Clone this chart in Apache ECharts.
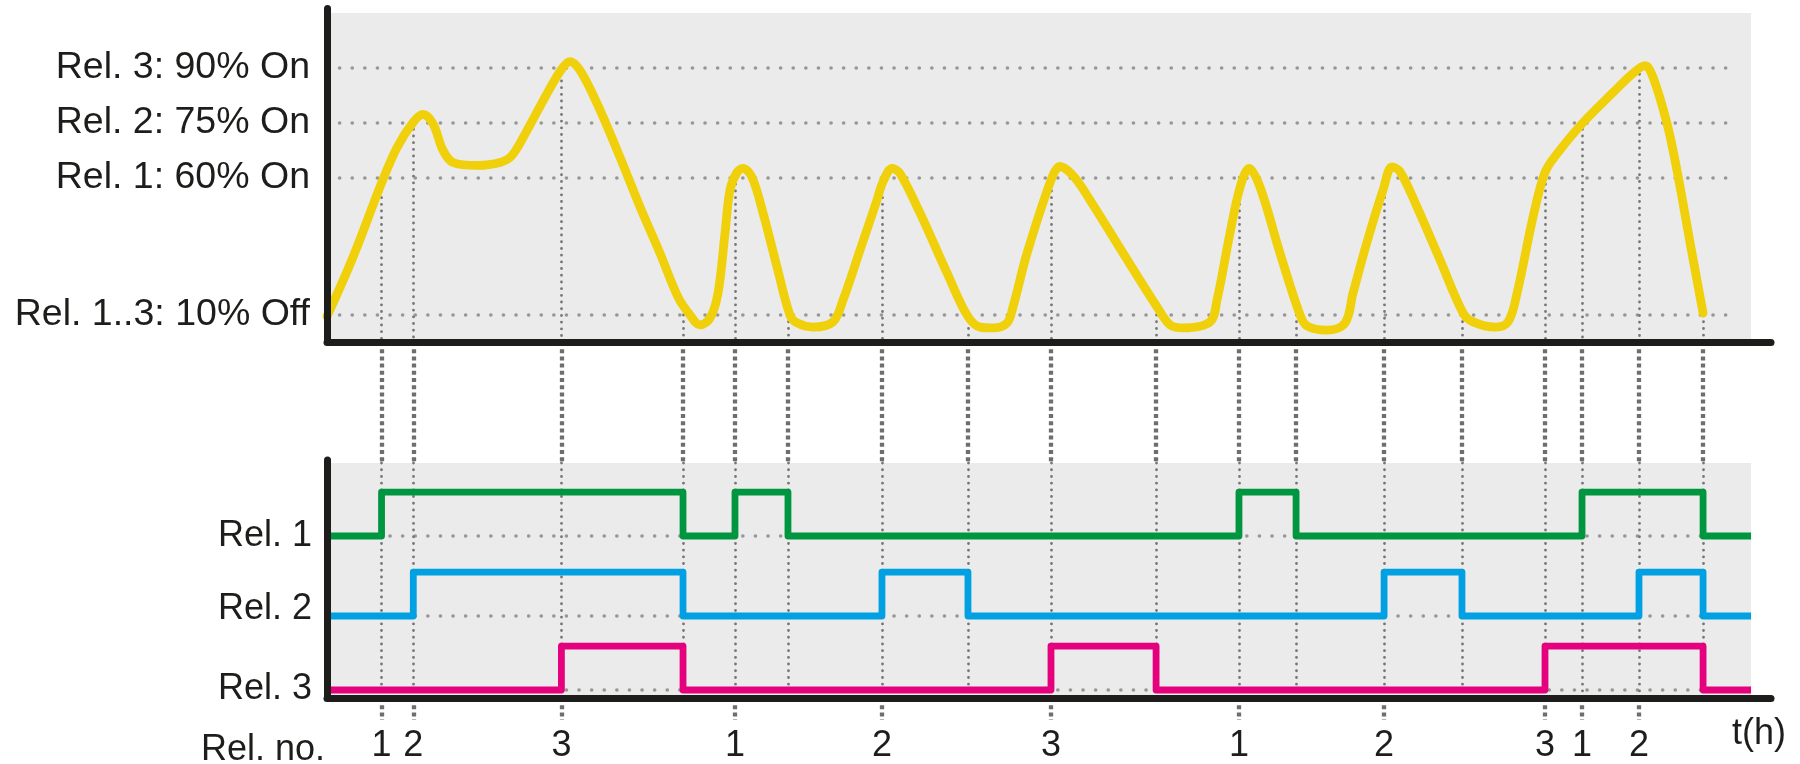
<!DOCTYPE html>
<html>
<head>
<meta charset="utf-8">
<script src="https://cdn.jsdelivr.net/npm/echarts@6/dist/echarts.min.js"></script>
<style>html,body{margin:0;padding:0;background:#fff}#c{width:1800px;height:764px}</style>
</head>
<body>
<div id="c"></div>
<script>
// ---------------- data ----------------
// time axis (h, arbitrary units) and sensor signal (%)
const curveTime = [0, 1.83, 3.86, 4.92, 6.04, 6.74, 7.44, 8.15, 8.85, 10.53,
  12.15, 12.99, 14.04, 15.45, 16.50, 17.06, 17.77, 18.96, 20.58, 21.98,
  23.38, 24.65, 25.49, 26.19, 26.90, 27.46, 27.95, 28.30, 28.79, 29.21,
  29.85, 30.62, 31.60, 32.51, 33.01, 34.13, 35.53, 36.24, 37.43, 38.62,
  39.04, 39.68, 40.24, 41.64, 43.54, 44.94, 45.86, 46.77, 47.75, 48.17,
  49.16, 50.91, 51.47, 52.39, 53.58, 55.90, 58.29, 59.20, 60.11,
  62.01, 62.50, 63.41, 64.12, 64.75, 65.52, 66.92, 68.33, 68.82, 70.22,
  71.49, 72.05, 73.03, 74.16, 74.79, 75.35, 76.54, 78.16, 79.78, 80.48,
  82.02, 82.94, 83.57, 84.69, 85.53, 86.38, 88.13, 90.31, 91.71, 92.56,
  93.12, 94.10, 94.80, 95.72, 96.63];
const curvePct = [9.5, 31.1, 58.4, 68.2, 75.0, 77.2, 74.7, 67.4, 64.1, 63.3,
  64.1, 66.0, 72.8, 82.9, 89.7, 91.6, 89.2, 80.2, 65.5, 49.3,
  32.5, 16.5, 10.0, 6.4, 8.9, 18.0, 39.8, 55.5, 61.4, 62.5,
  60.0, 47.1, 27.5, 10.0, 7.1, 5.6, 7.5, 15.5, 33.6, 51.8,
  58.4, 62.5, 61.1, 47.1, 25.3, 10.0, 5.6, 5.3, 7.1, 12.9,
  32.5, 60.0, 63.0, 60.5, 51.8, 32.5, 12.9, 6.4, 5.3,
  7.5, 15.5, 39.8, 56.5, 62.5, 56.5, 32.5, 10.0, 6.0, 4.5,
  7.1, 18.0, 36.5, 55.5, 62.9, 61.6, 49.3, 30.0, 10.7, 7.5,
  5.6, 7.5, 18.0, 45.6, 61.4, 66.5, 74.7, 83.2, 88.4, 90.5,
  87.3, 74.7, 61.9, 36.2, 10.7];

const levelPct = [10, 60, 75, 90];
const levelLabels = ['Rel. 1..3: 10% Off', 'Rel. 1: 60% On', 'Rel. 2: 75% On', 'Rel. 3: 90% On'];
const stageOnPct = [60, 75, 90];
const offPct = 10;

const relayNames = ['Rel. 1', 'Rel. 2', 'Rel. 3'];
// [time, state] switching points of each relay
const rel1Switch = [[0,0],[3.83,1],[25.0,0],[28.65,1],[32.37,0],[64.04,1],[68.05,0],[88.13,1],[96.63,0],[100,0]];
const rel2Switch = [[0,0],[6.06,1],[25.0,0],[38.97,1],[45.01,0],[74.23,1],[79.70,0],[92.13,1],[96.63,0],[100,0]];
const rel3Switch = [[0,0],[16.46,1],[25.0,0],[50.84,1],[58.22,0],[85.53,1],[96.63,0],[100,0]];
const relNoLabel = 'Rel. no.';
const timeLabel = 't(h)';

// ---------------- layout / style ----------------
const FONT = '"Liberation Sans", Arial, Helvetica, sans-serif';
const INK = '#1d1d1b';
const relayColors = ['#00963f', '#00a0e2', '#e5007e'];
const curveColor = '#f0d00a';
const X_MAX = 101.4;       // axis extends past the grey area
const BG_X_END = 100;
const TOP_MIN = -0.491, TOP_MAX = 5.573;
const BOT_MIN = 0, BOT_MAX = 10.128, BOT_BG_TOP = 10.0;
const laneLow = [6.894, 3.489, 0.340];
const laneAmp = 1.87;
const laneLabelLift = [0, 14, 2];

// non-linear display scale of the level axis (not to scale in the original)
function lvl(p) { return p <= 60 ? (p - 10) / 20 : 2.5 + (p - 60) / 15; }

// ---------------- derived ----------------
const relaySwitches = [rel1Switch, rel2Switch, rel3Switch];
function stateAt(sw, t) { let s = 0; for (const p of sw) { if (p[0] <= t) s = p[1]; } return s; }
const evMap = new Map();
relaySwitches.forEach((sw, r) => {
  for (let i = 1; i < sw.length; i++) {
    if (sw[i][1] !== sw[i - 1][1]) {
      const t = sw[i][0];
      if (!evMap.has(t)) evMap.set(t, { t, on: [], off: [] });
      (sw[i][1] ? evMap.get(t).on : evMap.get(t).off).push(r);
    }
  }
});
const events = [...evMap.values()].sort((a, b) => a.t - b.t).map(e => {
  const count = relaySwitches.reduce((n, sw) => n + stateAt(sw, e.t), 0);
  const isOn = e.on.length > 0;
  return { t: e.t, isOn, label: isOn ? String(e.on[0] + 1) : '', pct: isOn ? stageOnPct[count - 1] : offPct };
});

const dotGrid = { color: '#979797', width: 3.6, type: [0.1, 12.5], cap: 'round', opacity: 1 };
const dotVert = { color: '#767676', width: 2.8, type: [0.1, 6.6], cap: 'round', opacity: 1 };
const dashGap = { color: '#6e6e6e', width: 4.3, type: [4, 3.2], cap: 'butt', opacity: 1 };

function hiddenAxis(extra) {
  return Object.assign({ type: 'value', show: false, splitLine: { show: false } }, extra);
}
function mainAxis(extra) {
  return Object.assign({
    type: 'value', z: 10,
    axisLine: { show: true, onZero: false, lineStyle: { color: INK, width: 7, cap: 'round' } },
    axisTick: { show: false }, axisLabel: { show: false }, splitLine: { show: false }
  }, extra);
}
const laneRich = {};
laneLabelLift.forEach((lift, i) => {
  laneRich['l' + i] = { color: INK, fontSize: 36, fontFamily: FONT, padding: [0, 0, lift, 0] };
});

const chart = echarts.init(document.getElementById('c'), null, { renderer: 'canvas' });

const option = {
  animation: false,
  backgroundColor: '#ffffff',
  textStyle: { fontFamily: FONT },
  grid: [
    { left: 327, right: 49, top: 13, bottom: 422, show: true, backgroundColor: '#ebebeb', borderWidth: 0 }, // 0 top bg
    { left: 327, right: 49, top: 463, bottom: 66, show: true, backgroundColor: '#ebebeb', borderWidth: 0 }, // 1 bottom bg
    { left: 327, right: 29, top: 8.5, bottom: 422 },  // 2 top chart
    { left: 327, right: 29, top: 342, bottom: 301 },  // 3 gap
    { left: 327, right: 29, top: 460, bottom: 66 },   // 4 bottom chart
    { left: 327, right: 29, top: 698, bottom: 44 }    // 5 relay number row
  ],
  xAxis: [
    hiddenAxis({ gridIndex: 0, min: 0, max: BG_X_END }),
    hiddenAxis({ gridIndex: 1, min: 0, max: BG_X_END }),
    mainAxis({ gridIndex: 2, min: 0, max: X_MAX }),
    hiddenAxis({ gridIndex: 3, min: 0, max: X_MAX }),
    mainAxis({ gridIndex: 4, min: 0, max: X_MAX }),
    hiddenAxis({ gridIndex: 5, min: 0, max: X_MAX })
  ],
  yAxis: [
    hiddenAxis({ gridIndex: 0, min: 0, max: 1 }),
    hiddenAxis({ gridIndex: 1, min: 0, max: 1 }),
    mainAxis({ gridIndex: 2, min: TOP_MIN, max: TOP_MAX }),
    hiddenAxis({ gridIndex: 3, min: 0, max: 1 }),
    mainAxis({ gridIndex: 4, min: BOT_MIN, max: BOT_MAX }),
    hiddenAxis({ gridIndex: 5, min: 0, max: 1 })
  ],
  series: [
    // horizontal level lines with labels (top)
    {
      type: 'lines', coordinateSystem: 'cartesian2d', xAxisIndex: 2, yAxisIndex: 2, z: 1, silent: true, clip: false,
      lineStyle: dotGrid,
      label: { show: true, position: 'start', distance: 17, color: INK,
        formatter: p => '{t|' + p.name + '}',
        rich: { t: { color: INK, fontSize: 37.5, fontFamily: FONT } } },
      data: levelPct.map((p, i) => ({ name: levelLabels[i], coords: [[0, lvl(p)], [98.6, lvl(p)]] }))
    },
    // lane lines with labels (bottom)
    {
      type: 'lines', coordinateSystem: 'cartesian2d', xAxisIndex: 4, yAxisIndex: 4, z: 1, silent: true, clip: false,
      lineStyle: dotGrid,
      label: { show: true, position: 'start', distance: 15, color: INK,
        formatter: p => '{l' + p.dataIndex + '|' + p.name + '}',
        rich: laneRich },
      data: relayNames.map((n, i) => ({ name: n, coords: [[0, laneLow[i]], [98.6, laneLow[i]]] }))
    },
    // vertical event lines: top panel
    {
      type: 'lines', coordinateSystem: 'cartesian2d', xAxisIndex: 2, yAxisIndex: 2, z: 1, silent: true,
      lineStyle: dotVert,
      data: events.map(e => ({ coords: [[e.t, lvl(e.pct)], [e.t, TOP_MIN]] }))
    },
    // between panels
    {
      type: 'lines', coordinateSystem: 'cartesian2d', xAxisIndex: 3, yAxisIndex: 3, z: 1, silent: true,
      lineStyle: dashGap,
      data: events.map(e => ({ coords: [[e.t, 1], [e.t, 0]] }))
    },
    // bottom panel
    {
      type: 'lines', coordinateSystem: 'cartesian2d', xAxisIndex: 4, yAxisIndex: 4, z: 1, silent: true,
      lineStyle: dotVert,
      data: events.map(e => ({ coords: [[e.t, BOT_BG_TOP], [e.t, e.isOn ? BOT_MIN : laneLow[2]]] }))
    },
    // below axis to relay number, with the relay number as label
    {
      type: 'lines', coordinateSystem: 'cartesian2d', xAxisIndex: 5, yAxisIndex: 5, z: 1, silent: true, clip: false,
      lineStyle: dashGap,
      label: { show: true, position: 'end', distance: 8, color: INK,
        formatter: p => '{n|' + p.name + '}',
        rich: { n: { color: INK, fontSize: 36, fontFamily: FONT } } },
      data: events.filter(e => e.isOn).map(e => ({ name: e.label, coords: [[e.t, 1], [e.t, 0]] }))
    },
    // signal curve
    {
      type: 'line', xAxisIndex: 2, yAxisIndex: 2, z: 3, silent: true,
      smooth: 0.35, showSymbol: false, symbol: 'none',
      lineStyle: { color: curveColor, width: 8.8, cap: 'round', join: 'round' },
      data: curveTime.map((t, i) => [t, lvl(curvePct[i])])
    },
    // relay step traces
    ...relaySwitches.map((sw, r) => ({
      type: 'line', xAxisIndex: 4, yAxisIndex: 4, z: 3 + r, silent: true,
      step: 'end', showSymbol: false, symbol: 'none',
      lineStyle: { color: relayColors[r], width: 6.8, join: 'round', cap: 'butt' },
      data: sw.map(p => [p[0], laneLow[r] + p[1] * laneAmp])
    }))
  ],
  graphic: [
    { type: 'text', x: 325, y: 750, style: { text: relNoLabel, fill: INK, font: '36px ' + FONT, align: 'right', verticalAlign: 'middle' } },
    { type: 'text', x: 1732, y: 734, style: { text: timeLabel, fill: INK, font: '36px ' + FONT, align: 'left', verticalAlign: 'middle' } }
  ]
};
chart.setOption(option);
</script>
</body>
</html>
